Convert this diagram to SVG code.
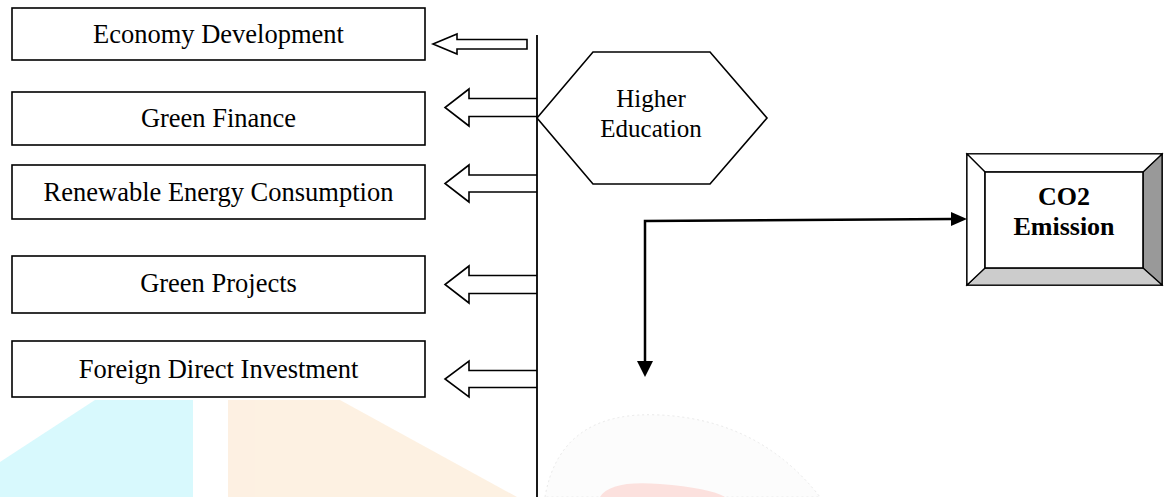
<svg xmlns="http://www.w3.org/2000/svg" width="1164" height="497" viewBox="0 0 1164 497">
<style>
.box{fill:#fff;stroke:#000;stroke-width:1.6}
.lbl{font-family:"Liberation Serif","Times New Roman",serif;font-size:26.5px;fill:#000;text-anchor:middle}
.hex{font-size:25px}
.bold{font-weight:bold;font-size:26px}
.harrow{fill:#fff;stroke:#000;stroke-width:1.6;stroke-linejoin:miter}
.conn{fill:none;stroke:#000;stroke-width:2.5}
</style>
<rect width="1164" height="497" fill="#fff"/>
<g id="watermark" opacity="0.85">
<path d="M0,462 L95,400 L193,400 L193,497 L0,497 z" fill="#d2f9fd"/>
<path d="M228,400 L340,400 L517,497 L228,497 z" fill="#fdeedd"/>
<path d="M545,497 Q560,410 660,415 Q760,420 820,497 z" fill="#fcfcfc" stroke="#e6e6e6" stroke-width="1" stroke-dasharray="2 3"/>
<path d="M600,497 Q610,480 660,484 Q710,488 725,497 z" fill="#fcdcd9"/>
</g>
<g id="connectors">
<polygon class="harrow" points="433,44 457,34 457,39.5 527,39.5 527,49 457,49 457,54"/>
<path class="harrow" d="M537,98.5 L469,98.5 L469,89 L445,107.5 L469,126 L469,116.5 L537,116.5"/>
<path class="harrow" d="M537,175 L469,175 L469,165 L445,183.5 L469,202 L469,192 L537,192"/>
<path class="harrow" d="M537,275.5 L469,275.5 L469,266 L445,284.5 L469,303 L469,293.5 L537,293.5"/>
<path class="harrow" d="M537,370.5 L469,370.5 L469,361 L445,379 L469,397 L469,387.5 L537,387.5"/>
<line x1="537" y1="35" x2="537" y2="497" stroke="#000" stroke-width="1.8"/>
<path class="conn" d="M952,219 L645,221 L645,362"/>
<polygon points="967,219 951,212 951,226" fill="#000"/>
<polygon points="645,377 637,361 653,361" fill="#000"/>
</g>
<g id="economy-development">
<rect class="box" x="12" y="8" width="413" height="52"/>
<text class="lbl" x="218.5" y="43">Economy Development</text>
</g>
<g id="green-finance">
<rect class="box" x="12" y="92" width="413" height="53"/>
<text class="lbl" x="218.5" y="127">Green Finance</text>
</g>
<g id="renewable-energy">
<rect class="box" x="12" y="165" width="413" height="54"/>
<text class="lbl" x="218.5" y="201">Renewable Energy Consumption</text>
</g>
<g id="green-projects">
<rect class="box" x="12" y="256" width="413" height="57"/>
<text class="lbl" x="218.5" y="292">Green Projects</text>
</g>
<g id="fdi">
<rect class="box" x="12" y="341" width="413" height="56"/>
<text class="lbl" x="218.5" y="378">Foreign Direct Investment</text>
</g>
<g id="higher-education">
<polygon class="box" points="537,118 593,52 710,52 767,118 710,184 593,184"/>
<text class="lbl hex" x="651" y="107">Higher</text>
<text class="lbl hex" x="651" y="137">Education</text>
</g>
<g id="co2-emission">
<rect x="967" y="154" width="195" height="131" fill="#fff" stroke="#000" stroke-width="1.6"/>
<polygon points="1143,172 1162,154 1162,285 1143,268" fill="#999" stroke="#000" stroke-width="1.2"/>
<polygon points="985,268 1143,268 1162,285 967,285" fill="#ccc" stroke="#000" stroke-width="1.2"/>
<polygon points="967,154 1162,154 1143,172 985,172" fill="#fff" stroke="#000" stroke-width="1.2"/>
<polygon points="967,154 985,172 985,268 967,285" fill="#fff" stroke="#000" stroke-width="1.2"/>
<rect x="985" y="172" width="158" height="96" fill="#fff" stroke="#000" stroke-width="1.6"/>
<text class="lbl bold" x="1064" y="205">CO2</text>
<text class="lbl bold" x="1064" y="235">Emission</text>
</g>
</svg>
